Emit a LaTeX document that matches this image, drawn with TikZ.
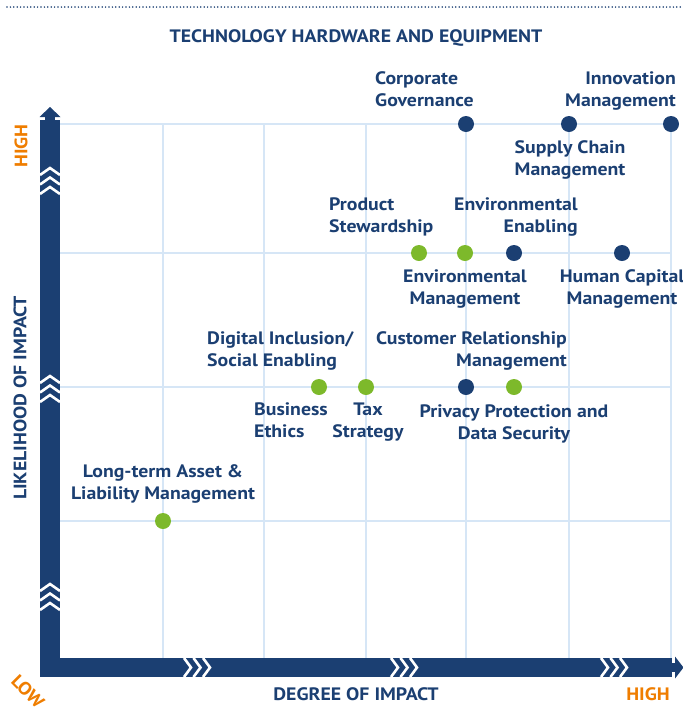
\documentclass[tikz,border=0pt]{standalone}
\usepackage{fontspec}
\setmainfont{PT Sans}[FakeStretch=1.1]
\definecolor{navy}{HTML}{1B3F72}
\definecolor{leaf}{HTML}{7DB92B}
\definecolor{orng}{HTML}{EF7D00}
\definecolor{gridc}{HTML}{D6E6F6}
\begin{document}
\begin{tikzpicture}[x=1pt,y=-1pt,
  lbl/.style={inner sep=0pt, text=navy, font=\fontsize{18}{22.5}\selectfont\bfseries},
  axl/.style={inner sep=0pt, text=navy, font=\fontsize{18}{20}\selectfont\bfseries},
  hil/.style={inner sep=0pt, text=orng, font=\fontsize{18}{20}\selectfont\bfseries},
  gline/.style={draw=gridc, line width=2pt},
  bdot/.style={circle, fill=navy, minimum size=16pt, inner sep=0pt},
  gdot/.style={circle, fill=leaf, minimum size=16pt, inner sep=0pt},
  chev/.style={draw=white, line width=2.6pt, miter limit=10}]
\useasboundingbox (0,0) rectangle (683,713);
% top dotted rule
\draw[navy, line width=1.7pt, dash pattern=on 0pt off 3.4pt, line cap=round] (7,7) -- (683,7);
% grid
\foreach \yy in {124,253,387,521} \draw[gline] (60,\yy) -- (672,\yy);
\foreach \xx in {163,264,366,466,569,671} \draw[gline] (\xx,124) -- (\xx,658);
% axes bars
\fill[navy] (40,120) rectangle (60,677);
\fill[navy] (39.5,117) -- (50,107) -- (60.5,117) -- cycle;
\fill[navy] (45,116) rectangle (55,121);
\fill[navy] (40,658) rectangle (672,677);
\fill[navy] (671,663) rectangle (676,672);
\fill[navy] (675,656.5) -- (683.5,667.5) -- (675,678.5) -- cycle;
% chevrons
\foreach \x in {184,391,601} \foreach \i in {0,1,2}
  \draw[chev] (\x+\i*9.5,658) -- (\x+\i*9.5+7,667.5) -- (\x+\i*9.5,677);
\foreach \y in {168,376,584} \foreach \i in {0,1,2}
  \draw[chev] (40,\y+\i*9.5+7) -- (50,\y+\i*9.5) -- (60,\y+\i*9.5+7);
% title and axis labels
\node[axl, anchor=base] (title) at (356,42) {TECHNOLOGY HARDWARE AND EQUIPMENT};
\node[axl, anchor=base] (xlab) at (356,700) {DEGREE OF IMPACT};
\node[hil, anchor=base] (xhigh) at (648,700) {HIGH};
\node[axl, anchor=center, rotate=90] (ylab) at (20,398) {LIKELIHOOD OF IMPACT};
\node[hil, anchor=center, rotate=90] (yhigh) at (21,146) {HIGH};
\node[hil, anchor=center, rotate=-45] (low) at (28,692) {LOW};
% dots
\node[bdot] (cg) at (466,124) {};
\node[bdot] (scm) at (569,124) {};
\node[bdot] (im) at (671,124) {};
\node[gdot] (ps) at (419,253) {};
\node[gdot] (em) at (465,253) {};
\node[bdot] (ee) at (514,253) {};
\node[bdot] (hcm) at (622,253) {};
\node[gdot] (be) at (319,387) {};
\node[gdot] (ts) at (366,387) {};
\node[bdot] (pp) at (466,387) {};
\node[gdot] (crm) at (514,387) {};
\node[gdot] (lt) at (163,521) {};
% labels (base = baseline of the last line)
\node[lbl, anchor=base west, align=left] (cgl) at (375,106.5) {Corporate\\Governance};
\node[lbl, anchor=base east, align=right] (iml) at (676,106.5) {Innovation\\Management};
\node[lbl, anchor=base, align=center] (scml) at (570,175.5) {Supply Chain\\Management};
\node[lbl, anchor=base west, align=left] (psl) at (329,232.5) {Product\\Stewardship};
\node[lbl, anchor=base east, align=right] (eel) at (578,232.5) {Environmental\\Enabling};
\node[lbl, anchor=base, align=center] (eml) at (465,304.5) {Environmental\\Management};
\node[lbl, anchor=base, align=center] (hcml) at (622,304.5) {Human Capital\\Management};
\node[lbl, anchor=base west, align=left] (dil) at (207,366.5) {Digital Inclusion/\\Social Enabling};
\node[lbl, anchor=base east, align=right] (crml) at (567,366.5) {Customer Relationship\\Management};
\node[lbl, anchor=base west, align=left] (bel) at (254,437.5) {Business\\Ethics};
\node[lbl, anchor=base, align=center] (tsl) at (368,437.5) {Tax\\Strategy};
\node[lbl, anchor=base, align=center] (ppl) at (514,439.5) {Privacy Protection and\\Data Security};
\node[lbl, anchor=base, align=center] (ltl) at (163,499.5) {Long-term Asset \&\\Liability Management};
\end{tikzpicture}
\end{document}
